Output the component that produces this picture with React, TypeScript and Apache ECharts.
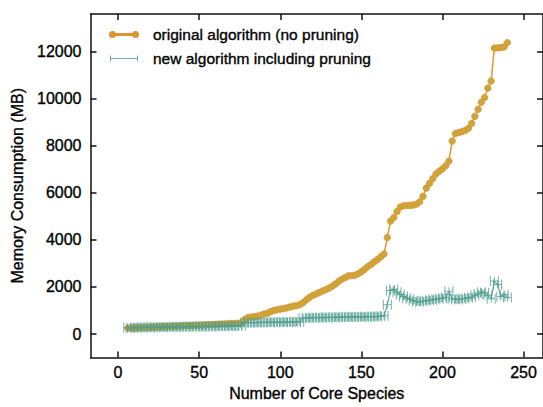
import React, { useEffect, useRef } from "react";
import * as echarts from "echarts";

const coreSpecies = [
  6, 8, 10, 12, 14, 16, 18, 20, 22, 24, 26, 28, 30, 32, 34, 36, 38, 40, 42, 44,
  46, 48, 50, 52, 54, 56, 58, 60, 62, 64, 66, 68, 70, 72, 74, 76, 78, 80, 82, 84,
  86, 88, 90, 92, 94, 96, 98, 100, 102, 104, 106, 108, 110, 112, 114, 116, 118, 120, 122, 124,
  126, 128, 130, 132, 134, 136, 138, 140, 142, 144, 146, 148, 150, 152, 154, 156, 158, 160, 162, 164,
  166, 168, 170, 172, 174, 176, 178, 180, 182, 184, 186, 188, 190, 192, 194, 196, 198, 200, 202, 204,
  206, 208, 210, 212, 214, 216, 218, 220, 222, 224, 226, 228, 230, 232, 234, 236, 238, 240,
];

const originalMB = [
  250, 255, 260, 265, 270, 275, 280, 290, 295, 300, 305, 310, 315, 320, 330, 335, 340, 350, 355, 360,
  365, 370, 380, 385, 390, 400, 405, 410, 420, 425, 430, 440, 445, 450, 460, 470, 620, 700, 720, 740,
  760, 800, 850, 880, 950, 1000, 1030, 1060, 1080, 1110, 1150, 1180, 1210, 1250, 1330, 1450, 1560, 1640, 1700, 1760,
  1830, 1880, 1950, 2030, 2120, 2240, 2330, 2400, 2470, 2480, 2500, 2560, 2650, 2750, 2870, 2960, 3070, 3170, 3280, 3400,
  4100, 4800, 4950, 5200, 5400, 5450, 5460, 5470, 5480, 5520, 5620, 5850, 6200, 6400, 6600, 6800, 6920, 7020, 7150, 7350,
  8200, 8520, 8560, 8600, 8650, 8740, 8950, 9250, 9550, 9850, 10050, 10450, 10750, 12150, 12160, 12170, 12200, 12380,
];

const pruningMB = [
  270, 260, 280, 270, 285, 275, 290, 280, 290, 285, 295, 290, 300, 295, 305, 300, 310, 305, 315, 310,
  320, 315, 320, 325, 320, 330, 325, 335, 330, 340, 335, 345, 340, 350, 345, 355, 480, 490, 480, 495,
  485, 500, 490, 505, 495, 510, 500, 510, 505, 515, 505, 520, 510, 520, 680, 690, 680, 700, 690, 705,
  695, 710, 700, 715, 705, 720, 710, 725, 715, 730, 720, 735, 725, 740, 730, 745, 740, 750, 760, 780,
  1250, 1850, 1900, 1780, 1680, 1600, 1520, 1480, 1420, 1380, 1360, 1400, 1420, 1440, 1460, 1480, 1500, 1520, 1560, 1820,
  1500, 1480, 1470, 1490, 1520, 1540, 1560, 1650, 1700, 1780, 1760, 1650, 1500, 2250, 2100, 1600, 1680, 1550,
];

const xTicks = [0, 50, 100, 150, 200, 250];
const yTicks = [0, 2000, 4000, 6000, 8000, 10000, 12000];

const FONT = "Liberation Sans, Arial, Helvetica, sans-serif";
const ORANGE_LINE = "#e6962c";
const ORANGE_MARK = "#cda63a";
const TEAL = "#4f9d8f";

const H_SYMBOL = "path://M0,0H1V10H0Z M0,4.5H9V5.5H0Z M8,0H9V10H8Z M4,1H5V9H4Z";
const ORANGE_ICON =
  "path://M0,3A2.5,2.5,0,1,1,5,3A2.5,2.5,0,1,1,0,3Z M5,2.4H23V3.6H5Z M23,3A2.5,2.5,0,1,1,28,3A2.5,2.5,0,1,1,23,3Z";
const TEAL_ICON = "path://M0,0H1V6H0Z M0,2.5H28V3.5H0Z M27,0H28V6H27Z";

export default function App() {
  const ref = useRef<HTMLDivElement>(null);

  useEffect(() => {
    if (!ref.current) return;
    const chart = echarts.init(ref.current, undefined, { renderer: "svg" });

    const txt = (size: number) => ({
      fontFamily: FONT,
      fontSize: size,
      color: "#000",
      textBorderColor: "#000",
      textBorderWidth: 0.35,
    });
    const axisLine = { show: true, onZero: false, lineStyle: { color: "#111", width: 1.5 } };
    const tick = (vals: number[]) => ({
      show: true,
      inside: true,
      length: 6,
      customValues: vals,
      lineStyle: { color: "#111", width: 1.5 },
    });
    const xMin = -17;
    const xMax = 262;
    const yMin = -1000;
    const yMax = 13600;

    const option: any = {
      animation: false,
      backgroundColor: "#fff",
      grid: { left: 90.5, right: -1, top: 14, bottom: 46.3, containLabel: false },
      legend: {
        orient: "vertical",
        left: 104,
        top: 21,
        itemWidth: 28,
        itemHeight: 6,
        itemGap: 7,
        textStyle: {
          ...txt(15.5),
          lineHeight: 17,
          padding: [0, 0, 0, 10],
        },
        data: [
          { name: "original algorithm (no pruning)", icon: ORANGE_ICON, itemStyle: { color: ORANGE_LINE } },
          { name: "new algorithm including pruning", icon: TEAL_ICON, itemStyle: { color: TEAL } },
        ],
      },
      xAxis: [
        {
          type: "value",
          min: xMin,
          max: xMax,
          position: "bottom",
          name: "Number of Core Species",
          nameLocation: "middle",
          nameGap: 28,
          nameTextStyle: txt(16),
          axisLine,
          splitLine: { show: false },
          axisTick: tick(xTicks),
          axisLabel: {
            show: true,
            customValues: xTicks,
            margin: 7,
            ...txt(16),
            formatter: (v: number) => String(v),
          },
        },
        {
          type: "value",
          min: xMin,
          max: xMax,
          position: "top",
          axisLine,
          splitLine: { show: false },
          axisTick: tick(xTicks),
          axisLabel: { show: false },
        },
      ],
      yAxis: [
        {
          type: "value",
          min: yMin,
          max: yMax,
          position: "left",
          name: "Memory Consumption (MB)",
          nameLocation: "middle",
          nameGap: 63,
          nameTextStyle: txt(16),
          axisLine,
          splitLine: { show: false },
          axisTick: tick(yTicks),
          axisLabel: {
            show: true,
            customValues: yTicks,
            margin: 9,
            ...txt(16),
            formatter: (v: number) => String(v),
          },
        },
        {
          type: "value",
          min: yMin,
          max: yMax,
          position: "right",
          axisLine,
          splitLine: { show: false },
          axisTick: tick(yTicks),
          axisLabel: { show: false },
        },
      ],
      series: [
        {
          name: "original algorithm (no pruning)",
          type: "line",
          xAxisIndex: 0,
          yAxisIndex: 0,
          data: coreSpecies.map((x, i) => [x, originalMB[i]]),
          showAllSymbol: true,
          symbol: "circle",
          symbolSize: 6.5,
          itemStyle: { color: ORANGE_MARK, borderColor: "#d99633", borderWidth: 0.8 },
          lineStyle: { color: ORANGE_LINE, width: 1.5 },
          z: 2,
        },
        {
          name: "new algorithm including pruning",
          type: "line",
          xAxisIndex: 0,
          yAxisIndex: 0,
          data: coreSpecies.map((x, i) => [x, pruningMB[i]]),
          showAllSymbol: true,
          symbol: H_SYMBOL,
          symbolSize: [9, 10],
          itemStyle: { color: TEAL, opacity: 0.8 },
          lineStyle: { color: TEAL, width: 1 },
          z: 3,
        },
      ],
    };

    chart.setOption(option);
    return () => chart.dispose();
  }, []);

  return (
    <div
      ref={ref}
      style={{ position: "fixed", left: 0, top: 0, width: 543, height: 407 }}
    />
  );
}
